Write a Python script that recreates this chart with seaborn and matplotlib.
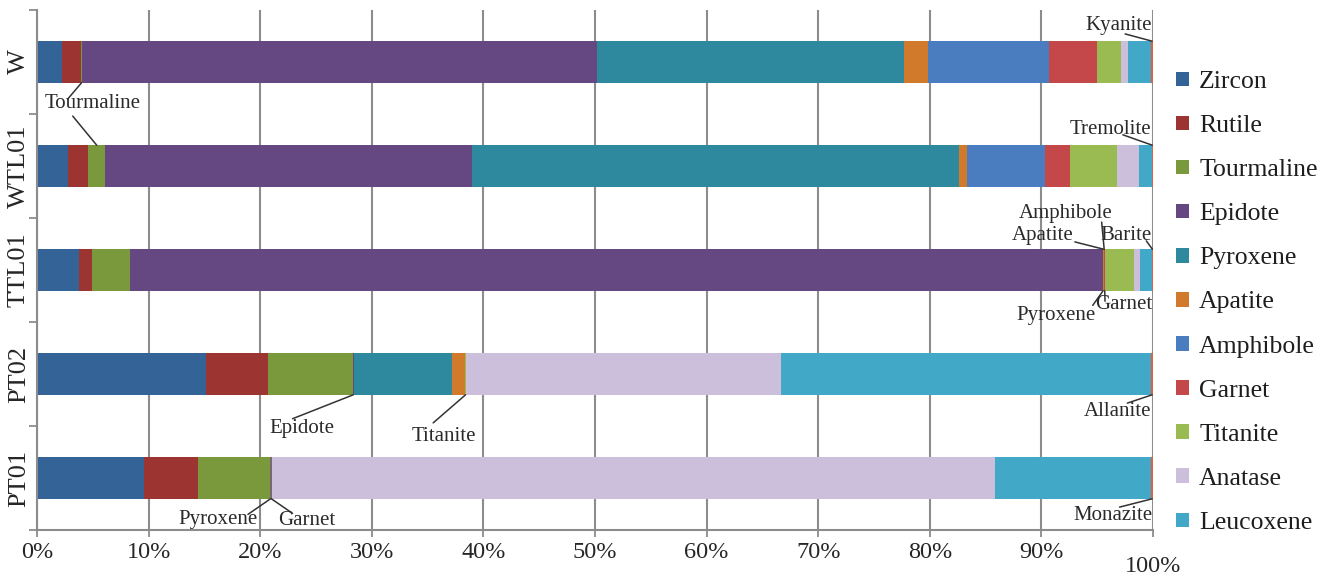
import numpy as np
import pandas as pd
import matplotlib
matplotlib.use("Agg")
import matplotlib.pyplot as plt
import matplotlib.transforms as mtransforms
import seaborn as sns

# Heavy-mineral assemblages (percent of grains) per sample
samples = ["W", "WTL01", "TTL01", "PT02", "PT01"]

zircon     = [2.24, 2.75, 3.79, 15.14, 9.59]
rutile     = [1.70, 1.85, 1.11, 5.56, 4.81]
tourmaline = [0.10, 1.50, 3.43, 7.59, 6.48]
epidote    = [46.10, 32.86, 87.17, 0.10, 0.00]
pyroxene   = [27.57, 43.67, 0.05, 8.80, 0.08]
apatite    = [2.09, 0.74, 0.05, 1.16, 0.00]
amphibole  = [10.90, 6.99, 0.05, 0.00, 0.00]
garnet     = [4.30, 2.19, 0.05, 0.00, 0.08]
titanite   = [2.12, 4.26, 2.60, 0.10, 0.00]
anatase    = [0.66, 1.92, 0.54, 28.20, 64.76]
leucoxene  = [2.07, 1.14, 1.05, 33.20, 14.06]
kyanite    = [0.15, 0.00, 0.00, 0.00, 0.00]
tremolite  = [0.00, 0.13, 0.00, 0.00, 0.00]
barite     = [0.00, 0.00, 0.11, 0.00, 0.00]
allanite   = [0.00, 0.00, 0.00, 0.15, 0.00]
monazite   = [0.00, 0.00, 0.00, 0.00, 0.14]

minerals = ["Zircon", "Rutile", "Tourmaline", "Epidote", "Pyroxene", "Apatite",
            "Amphibole", "Garnet", "Titanite", "Anatase", "Leucoxene",
            "Kyanite", "Tremolite", "Barite", "Allanite", "Monazite"]
legend_minerals = minerals[:11]

colors = {
    "Zircon": "#336397", "Rutile": "#9C3532", "Tourmaline": "#7A983C",
    "Epidote": "#654881", "Pyroxene": "#2E899F", "Apatite": "#D27A2C",
    "Amphibole": "#4A7DC0", "Garnet": "#C4474A", "Titanite": "#9ABB52",
    "Anatase": "#CBBFDB", "Leucoxene": "#42A8C7",
    "Kyanite": "#E0603E", "Tremolite": "#E0603E", "Barite": "#E0603E",
    "Allanite": "#E0603E", "Monazite": "#E0603E",
}

values = pd.DataFrame(
    {
        "Zircon": zircon, "Rutile": rutile, "Tourmaline": tourmaline,
        "Epidote": epidote, "Pyroxene": pyroxene, "Apatite": apatite,
        "Amphibole": amphibole, "Garnet": garnet, "Titanite": titanite,
        "Anatase": anatase, "Leucoxene": leucoxene, "Kyanite": kyanite,
        "Tremolite": tremolite, "Barite": barite, "Allanite": allanite,
        "Monazite": monazite,
    },
    index=samples,
)[minerals]
cum_end = values.cumsum(axis=1)
cum_start = cum_end - values

sns.set_style("ticks")
plt.rcParams["font.family"] = ["Liberation Serif", "DejaVu Serif"]
plt.rcParams["text.color"] = "#1e1e1e"

fig = plt.figure(figsize=(13.33, 5.76), dpi=100)
ax = fig.add_axes([37 / 1333, 1 - 530 / 576, (1153 - 37) / 1333, 520 / 576])

grey = "#8c8c8c"
bar_h = 0.4

# Stacked bars: draw cumulative totals from the last mineral back to the first
for m in reversed(minerals):
    sns.barplot(
        x=cum_end[m].values, y=samples, order=samples, orient="h",
        color=colors[m], saturation=1, width=bar_h, linewidth=0,
        label=m if m in legend_minerals else None, ax=ax, zorder=2,
    )
if ax.get_legend() is not None:
    ax.get_legend().remove()

ax.set_xlim(0, 100)
ax.set_ylim(4.5, -0.5)

# x axis
ax.set_xticks(np.arange(0, 101, 10))
ax.set_xticklabels([f"{v}%" for v in range(0, 101, 10)], fontsize=17.5)
ax.tick_params(axis="x", which="major", length=5, width=1.3, color=grey, pad=4)
lbl = ax.get_xticklabels()[-1]
lbl.set_transform(lbl.get_transform() +
                  mtransforms.ScaledTranslation(0, -13 / 100, fig.dpi_scale_trans))
ax.xaxis.grid(True, color=grey, linewidth=1.5)
ax.yaxis.grid(False)
ax.set_axisbelow(True)

# y axis: labels at bar centres, tick marks between categories
ax.set_yticks(range(len(samples)))
ax.set_yticklabels(samples, rotation=90, va="center", fontsize=19)
ax.set_yticks(np.arange(-0.5, len(samples), 1.0), minor=True)
ax.tick_params(axis="y", which="major", length=0, pad=5)
ax.tick_params(axis="y", which="minor", length=6, width=1.3, color=grey)
ax.set_xlabel("")
ax.set_ylabel("")

for side in ["top", "right"]:
    ax.spines[side].set_visible(False)
for side in ["left", "bottom"]:
    ax.spines[side].set_color(grey)
    ax.spines[side].set_linewidth(1.5)

# Call-outs for the thin segments
def seg_point(mineral, row, edge):
    x = (cum_start.loc[samples[row], mineral] + cum_end.loc[samples[row], mineral]) / 2
    y = row - bar_h / 2 if edge == "top" else row + bar_h / 2
    return x, y

callouts = [
    ("Tourmaline", (5.0, 0.40), [((2.8, 0.35), "Tourmaline", 0, "bottom"),
                                 ((3.2, 0.52), "Tourmaline", 1, "top")]),
    ("Kyanite", (96.95, -0.35), [((97.5, -0.27), "Kyanite", 0, "top")]),
    ("Tremolite", (96.2, 0.65), [((97.3, 0.70), "Tremolite", 1, "top")]),
    ("Amphibole", (92.2, 1.46), [((95.4, 1.54), "Amphibole", 2, "top")]),
    ("Apatite", (90.1, 1.67), [((93.0, 1.73), "Apatite", 2, "top")]),
    ("Barite", (97.6, 1.67), [((99.4, 1.72), "Barite", 2, "top")]),
    ("Pyroxene", (91.3, 2.44), [((94.6, 2.34), "Pyroxene", 2, "bottom")]),
    ("Garnet", (97.4, 2.33), [((95.7, 2.30), "Garnet", 2, "bottom")]),
    ("Epidote", (23.7, 3.52), [((22.9, 3.43), "Epidote", 3, "bottom")]),
    ("Titanite", (36.5, 3.60), [((35.5, 3.47), "Titanite", 3, "bottom")]),
    ("Allanite", (96.8, 3.36), [((97.7, 3.28), "Allanite", 3, "bottom")]),
    ("Monazite", (96.4, 4.36), [((97.0, 4.28), "Monazite", 4, "bottom")]),
    ("Pyroxene", (16.2, 4.40), [((18.9, 4.35), "Pyroxene", 4, "bottom")]),
    ("Garnet", (24.2, 4.41), [((22.9, 4.34), "Garnet", 4, "bottom")]),
]
for text, (tx, ty), lines in callouts:
    ax.text(tx, ty, text, ha="center", va="center", fontsize=15,
            color="#2a2a2a", zorder=5)
    for (lx, ly), mineral, row, edge in lines:
        px, py = seg_point(mineral, row, edge)
        ax.plot([lx, px], [ly, py], color="#333333", linewidth=1.1,
                zorder=4, clip_on=False)

# Legend in mineral order
handles, labels = ax.get_legend_handles_labels()
lookup = dict(zip(labels, handles))
fig.legend(
    [lookup[m] for m in legend_minerals], legend_minerals,
    loc="upper left", bbox_to_anchor=(1176 / 1333, 1 - 71 / 576),
    bbox_transform=fig.transFigure, frameon=False, fontsize=18.5,
    handlelength=0.5, handleheight=0.5, handletextpad=0.4,
    labelspacing=0.86, borderpad=0, borderaxespad=0,
)

fig.savefig("out.png", dpi=100)
